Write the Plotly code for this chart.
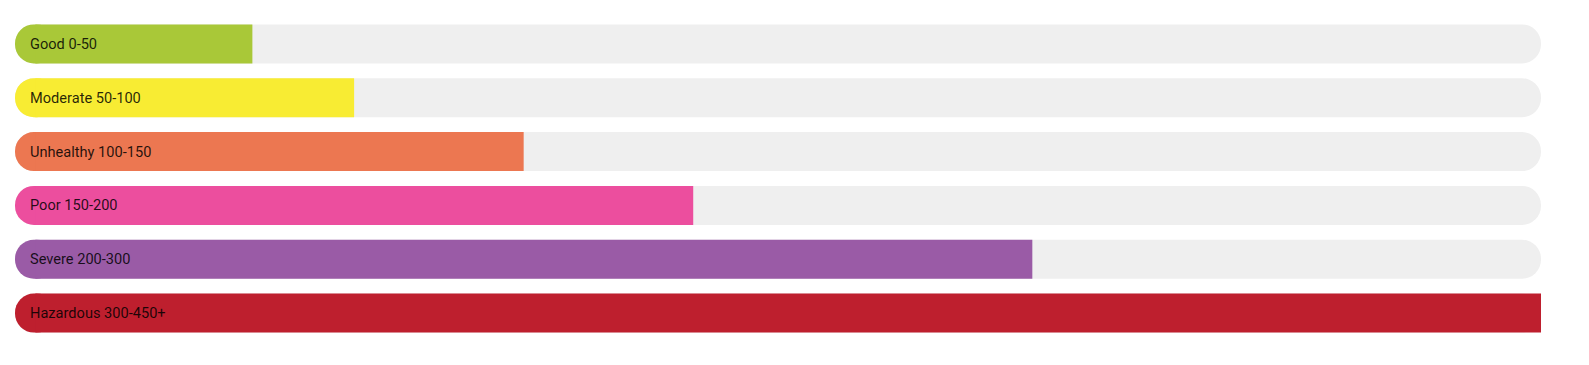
import plotly.graph_objects as go

labels = ["Good 0-50", "Moderate 50-100", "Unhealthy 100-150", "Poor 150-200", "Severe 200-300", "Hazardous 300-450+"]
values = [70, 100, 150, 200, 300, 450]
colors = ["#a9c838", "#f8ec33", "#ec7751", "#ec4e9e", "#9a5ba6", "#be1f2e"]
scale_max = 450
bg_color = "#efefef"

n = len(labels)
cap = scale_max * 12 / 450  # width of the rounded left cap, in axis units
fig = go.Figure()
# background track, rounded on both ends
fig.add_trace(go.Bar(
    y=labels, x=[scale_max] * n, base=[0] * n,
    orientation="h", marker=dict(color=bg_color, cornerradius="50%", line=dict(width=0)),
    hoverinfo="skip", showlegend=False))
# rounded left cap of each colored bar
fig.add_trace(go.Bar(
    y=labels, x=[cap] * n, base=[0] * n,
    orientation="h", marker=dict(color=colors, cornerradius="50%", line=dict(width=0)),
    hoverinfo="skip", showlegend=False))
# square body of each colored bar
fig.add_trace(go.Bar(
    y=labels, x=[v - cap / 2 for v in values], base=[cap / 2] * n,
    orientation="h", marker=dict(color=colors, line=dict(width=0)),
    hoverinfo="skip", showlegend=False))

for lab in labels:
    fig.add_annotation(x=0, y=lab, text=lab, xanchor="left", xshift=13, showarrow=False,
                       font=dict(family="Roboto", size=14.6, color="rgba(0,0,0,0.85)"))

fig.update_layout(
    width=1589, height=365,
    margin=dict(l=15, r=48, t=17, b=25),
    barmode="overlay", bargap=0.275,
    plot_bgcolor="white", paper_bgcolor="white",
    xaxis=dict(range=[0, scale_max], visible=False, fixedrange=True),
    yaxis=dict(autorange="reversed", visible=False, fixedrange=True),
)
fig.write_html("out.html")
